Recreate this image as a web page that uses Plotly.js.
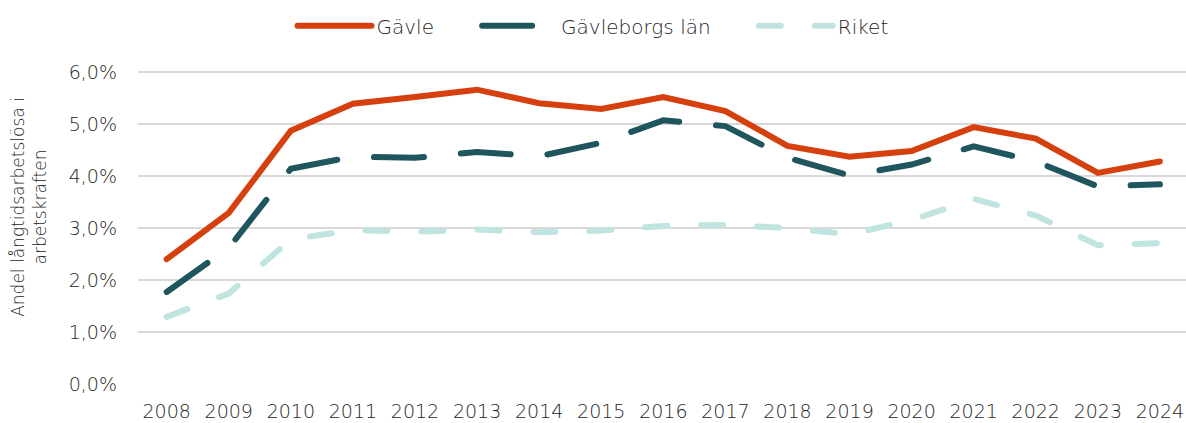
<!DOCTYPE html>
<html>
<head>
<meta charset="utf-8">
<script src="https://cdn.plot.ly/plotly-3.0.1.min.js"></script>
<style>
html,body{margin:0;padding:0;background:#fff;}
#chart{width:1186px;height:423px;}
.scatterlayer .js-line, .legend .js-line{stroke-linecap:round !important;}
</style>
</head>
<body>
<div id="chart"></div>
<script>
const years = ["2008","2009","2010","2011","2012","2013","2014","2015","2016","2017","2018","2019","2020","2021","2022","2023","2024"];
const gavle = [2.40,3.29,4.87,5.39,5.52,5.66,5.40,5.29,5.52,5.25,4.58,4.37,4.48,4.94,4.72,4.06,4.28];
const gavleborg = [1.77,2.62,4.14,4.37,4.35,4.46,4.38,4.64,5.07,4.96,4.35,4.01,4.22,4.57,4.28,3.80,3.84];
const riket = [1.29,1.74,2.78,2.96,2.93,2.97,2.92,2.95,3.04,3.06,3.00,2.88,3.15,3.56,3.24,2.67,2.71];
const yTickVals = [0,1,2,3,4,5,6];
const yTickText = ["0,0%","1,0%","2,0%","3,0%","4,0%","5,0%","6,0%"];
const seriesNames = ["Gävle", "Gävleborgs län", "Riket"];
const FONT = "'DejaVu Sans Light', 'DejaVu Sans ExtraLight', 'DejaVu Sans', sans-serif";
const PAD = "\u00a0\u00a0\u00a0\u00a0\u00a0\u00a0";

const traces = [
  {x: years, y: gavle, name: seriesNames[0] + PAD, type: "scatter", mode: "lines",
   line: {color: "#D6400E", width: 6}},
  {x: years, y: gavleborg, name: seriesNames[1] + PAD, type: "scatter", mode: "lines",
   line: {color: "#1F555C", width: 6, dash: "50px,37px"}},
  {x: years, y: riket, name: seriesNames[2], type: "scatter", mode: "lines",
   line: {color: "#C0E4DF", width: 6, dash: "22px,34px"}}
];

const layout = {
  width: 1186, height: 423,
  margin: {l: 138, r: 0, t: 30, b: 39, autoexpand: false},
  paper_bgcolor: "#fff", plot_bgcolor: "#fff",
  font: {family: FONT, size: 19, color: "#262626"},
  showlegend: true,
  legend: {orientation: "h", xref: "container", yref: "container", x: 0.5, xanchor: "center",
           y: 0.985, yanchor: "top", font: {family: FONT, size: 20, color: "#262626"},
           itemwidth: 74, traceorder: "normal"},
  xaxis: {type: "category", range: [-0.462, 16.42], showgrid: false, zeroline: false, showline: false,
          ticks: "", ticklabelstandoff: 14, tickfont: {family: FONT, size: 19, color: "#262626"}},
  yaxis: {range: [0, 6.808], tickvals: yTickVals, ticktext: yTickText, showgrid: true,
          gridcolor: "#D9D9D9", gridwidth: 1.5, zeroline: false, showline: false, ticks: "",
          ticklabelstandoff: 20, tickfont: {family: FONT, size: 19, color: "#262626"},
          title: {text: "Andel långtidsarbetslösa i<br>arbetskraften", standoff: 17,
                  font: {family: FONT, size: 17, color: "#262626"}}}
};

Plotly.newPlot("chart", traces, layout, {displayModeBar: false, staticPlot: true});
</script>
</body>
</html>
